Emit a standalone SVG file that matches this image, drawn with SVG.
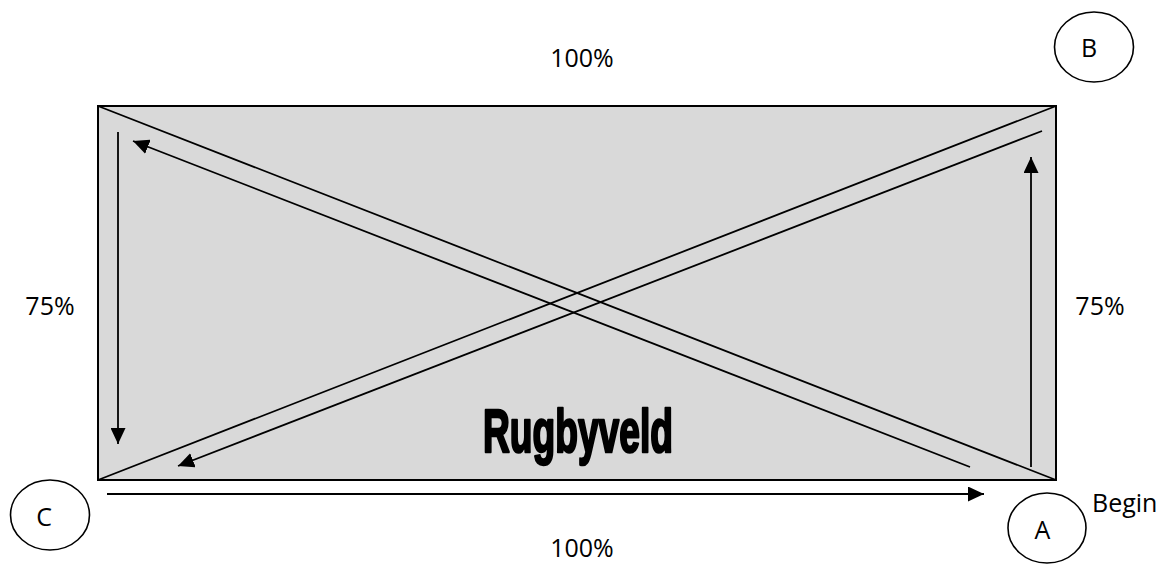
<svg xmlns="http://www.w3.org/2000/svg" width="1160" height="580" viewBox="0 0 1160 580">
  <style>
    .lbl { font-family: "Open Sans", "Liberation Sans", sans-serif; font-size: 25px; fill: #000; }
    .ring { fill: #fff; stroke: #000; stroke-width: 1.6; }
    .edge { stroke: #000; stroke-width: 1.8; fill: none; }
    .run { stroke: #000; stroke-width: 1.8; fill: none; marker-end: url(#head); }
    .title { font-family: "Liberation Sans Narrow", "Liberation Sans", sans-serif; font-weight: bold; font-size: 62px; fill: #000; stroke: #000; stroke-width: 2.6; stroke-linejoin: round; }
  </style>
  <defs>
    <marker id="head" markerUnits="userSpaceOnUse" markerWidth="16" markerHeight="15" refX="16" refY="7.5" orient="auto">
      <path d="M0,0 L16,7.5 L0,15 z" fill="#000"/>
    </marker>
  </defs>

  <rect width="1160" height="580" fill="#fff"/>

  <!-- pitch -->
  <g id="field">
    <rect x="98" y="106" width="958" height="374" fill="#d9d9d9" stroke="#000" stroke-width="2"/>
    <line class="edge" x1="98" y1="106" x2="1056" y2="480"/>
    <line class="edge" x1="98" y1="480" x2="1056" y2="106"/>
    <text class="title" x="483" y="452" textLength="190" lengthAdjust="spacingAndGlyphs">Rugbyveld</text>
  </g>

  <!-- running route -->
  <g id="connectors">
    <line class="run" x1="107" y1="494" x2="984" y2="494"/>
    <line class="run" x1="1031" y1="467" x2="1031" y2="157"/>
    <line class="run" x1="1042" y1="131" x2="178" y2="466"/>
    <line class="run" x1="118" y1="132" x2="118" y2="444"/>
    <line class="run" x1="970" y1="467" x2="133" y2="141"/>
  </g>

  <g id="node-a">
    <ellipse class="ring" cx="1047" cy="528" rx="39" ry="35"/>
    <text class="lbl" x="1042.5" y="538.5" text-anchor="middle">A</text>
  </g>
  <g id="node-b">
    <ellipse class="ring" cx="1094" cy="47" rx="39.5" ry="35"/>
    <text class="lbl" x="1089" y="56.5" text-anchor="middle">B</text>
  </g>
  <g id="node-c">
    <ellipse class="ring" cx="50" cy="515" rx="39.5" ry="35"/>
    <text class="lbl" x="44" y="525.5" text-anchor="middle">C</text>
  </g>

  <!-- measurements -->
  <g id="labels">
    <text class="lbl" x="582" y="67" text-anchor="middle">100%</text>
    <text class="lbl" x="582" y="557" text-anchor="middle">100%</text>
    <text class="lbl" x="50" y="314.5" text-anchor="middle">75%</text>
    <text class="lbl" x="1100" y="314.5" text-anchor="middle">75%</text>
    <text class="lbl" x="1092" y="512">Begin</text>
  </g>
</svg>
